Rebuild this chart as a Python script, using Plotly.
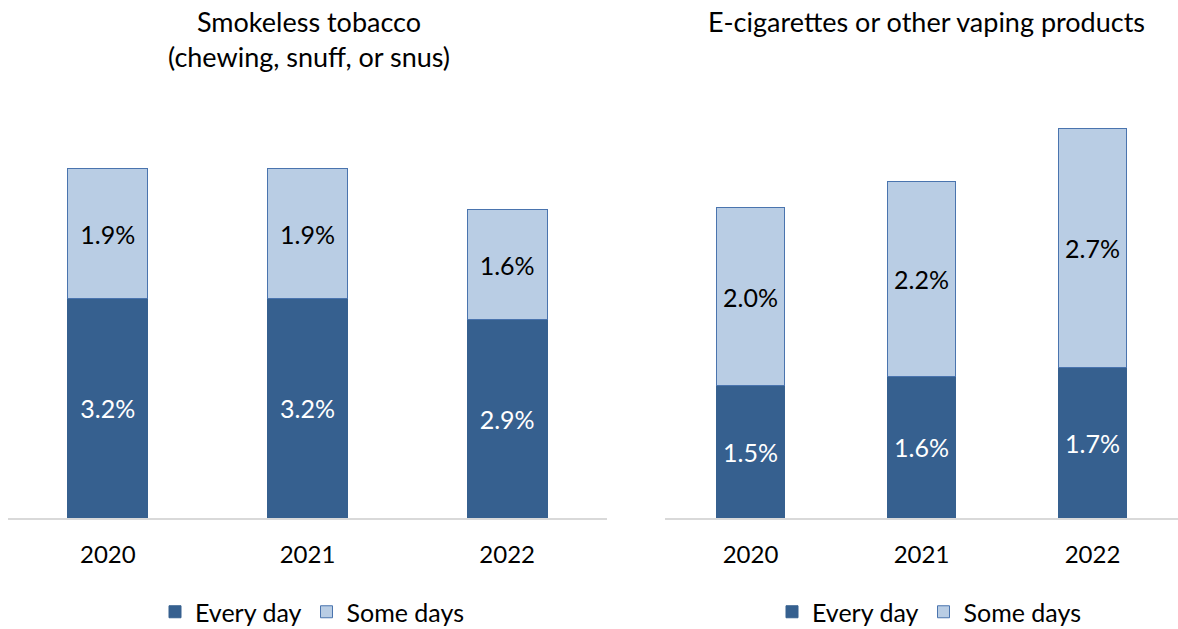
import plotly.graph_objects as go

years = ["2020", "2021", "2022"]
smokeless_every = [3.2, 3.2, 2.9]
smokeless_some = [1.9, 1.9, 1.6]
vape_every = [1.5, 1.6, 1.7]
vape_some = [2.0, 2.2, 2.7]

DARK = "#36608F"
LIGHT = "#B9CDE4"
EDGE = "#4A74AE"
FONT = "Lato, 'Open Sans', sans-serif"

W, H = 1178, 629


def px_x(v):
    return v / W


def px_y(v):
    return 1 - v / H


fig = go.Figure()


def add_pair(every, some, xa, ya, legend):
    fig.add_trace(go.Bar(
        x=years, y=every, name="Every day", xaxis=xa, yaxis=ya, legend=legend,
        marker=dict(color=DARK, line=dict(color=DARK, width=1)),
        text=[f"{v:.1f}%" for v in every], textposition="inside",
        insidetextanchor="middle", textangle=0, constraintext="none",
        textfont=dict(color="white", size=25, family=FONT),
        width=0.4, hoverinfo="skip",
    ))
    fig.add_trace(go.Bar(
        x=years, y=some, name="Some days", xaxis=xa, yaxis=ya, legend=legend,
        marker=dict(color=LIGHT, line=dict(color=EDGE, width=1)),
        text=[f"{v:.1f}%" for v in some], textposition="inside",
        insidetextanchor="middle", textangle=0, constraintext="none",
        textfont=dict(color="black", size=25, family=FONT),
        width=0.4, hoverinfo="skip",
    ))


add_pair(smokeless_every, smokeless_some, "x", "y", "legend")
add_pair(vape_every, vape_some, "x2", "y2", "legend2")

base = px_y(518)
axis_common = dict(
    showgrid=False, zeroline=False, ticks="", showline=True,
    linecolor="#D9D9D9", linewidth=2,
    tickfont=dict(size=24, family=FONT, color="black"),
    range=[-0.5, 2.5], fixedrange=True, automargin=False,
)
y_common = dict(showgrid=False, zeroline=False, showticklabels=False,
                showline=False, ticks="", fixedrange=True, automargin=False)

# legends are placed freely; margins are not expanded for them
legend_common = dict(
    orientation="h", yanchor="bottom", xanchor="center", y=-6 / H,
    font=dict(size=25, family=FONT, color="black"),
    bgcolor="rgba(0,0,0,0)", itemwidth=30, tracegroupgap=0,
    traceorder="normal",
)

fig.update_layout(
    width=W, height=H, barmode="stack",
    margin=dict(l=0, r=0, t=0, b=0, autoexpand=False),
    paper_bgcolor="white", plot_bgcolor="white",
    font=dict(family=FONT, color="black"),
    xaxis=dict(domain=[px_x(8), px_x(607)], anchor="y", **axis_common),
    yaxis=dict(domain=[base, px_y(107)], range=[0, 6], anchor="x", **y_common),
    xaxis2=dict(domain=[px_x(665), 1.0], anchor="y2", **axis_common),
    yaxis2=dict(domain=[base, px_y(75)], range=[0, 5], anchor="x2", **y_common),
    legend=dict(x=px_x(312), **legend_common),
    legend2=dict(x=px_x(929), **legend_common),
    annotations=[
        dict(text="Smokeless tobacco<br>(chewing, snuff, or snus)",
             x=px_x(309), y=px_y(39), xref="paper", yref="paper",
             xanchor="center", yanchor="middle", showarrow=False,
             font=dict(size=27, family=FONT, color="black")),
        dict(text="E-cigarettes or other vaping products",
             x=px_x(926), y=px_y(22), xref="paper", yref="paper",
             xanchor="center", yanchor="middle", showarrow=False,
             font=dict(size=27, family=FONT, color="black")),
    ],
)
fig.update_xaxes(ticklabelstandoff=14)

fig.write_html("out.html")
